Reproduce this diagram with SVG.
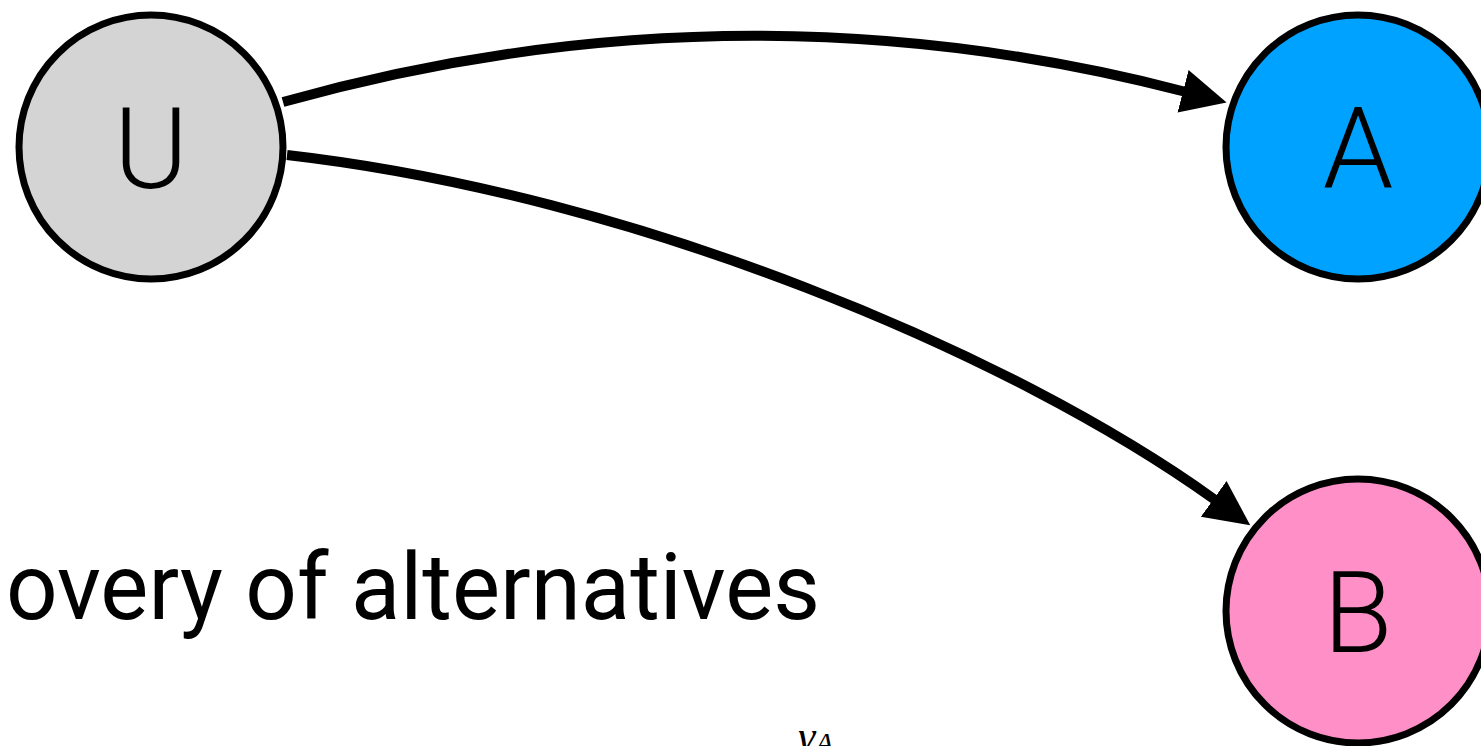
<svg xmlns="http://www.w3.org/2000/svg" width="1481" height="746" viewBox="0 0 1481 746">
  <style>
    .node { stroke: #000; stroke-width: 7; }
    .lbl { font-family: Roboto, "Liberation Sans", sans-serif; font-weight: 300; font-size: 113px; fill: #000; text-anchor: middle; }
    .edge { fill: none; stroke: #000; stroke-width: 10; }
    .caption { font-family: Roboto, "Liberation Sans", Arial, sans-serif; font-weight: 400; font-size: 92px; fill: #000; }
    .math { font-family: "Liberation Serif", serif; font-style: italic; font-size: 44px; fill: #000; }
  </style>
  <defs>
    <marker id="arrow" markerUnits="userSpaceOnUse" markerWidth="50" markerHeight="50" viewBox="0 -25 50 50" refX="1" refY="0" orient="auto">
      <path d="M0,-22 L45,0 L0,22 Z" fill="#000"/>
    </marker>
  </defs>
  <rect width="1481" height="746" fill="#fff"/>
  <g id="connectors">
    <path class="edge" d="M283,102 C583,18 884,13.5 1184,91.5" marker-end="url(#arrow)"/>
    <path class="edge" d="M287,155 C637,195 1011.5,353.7 1214.5,499.5" marker-end="url(#arrow)"/>
  </g>
  <g id="node-U">
    <circle class="node" cx="151" cy="147" r="132" fill="#d4d4d4"/>
    <text class="lbl" x="151" y="188">U</text>
  </g>
  <g id="node-A">
    <circle class="node" cx="1358" cy="147" r="132" fill="#00a2ff"/>
    <text class="lbl" x="1358" y="188">A</text>
  </g>
  <g id="node-B">
    <circle class="node" cx="1358" cy="611" r="132" fill="#ff8fc7"/>
    <text class="lbl" x="1358" y="652">B</text>
  </g>
  <text class="caption" x="6" y="619" textLength="814" lengthAdjust="spacingAndGlyphs">overy of alternatives</text>
  <text class="math" x="798" y="751">γ<tspan font-size="30" dy="2">A</tspan></text>
</svg>
